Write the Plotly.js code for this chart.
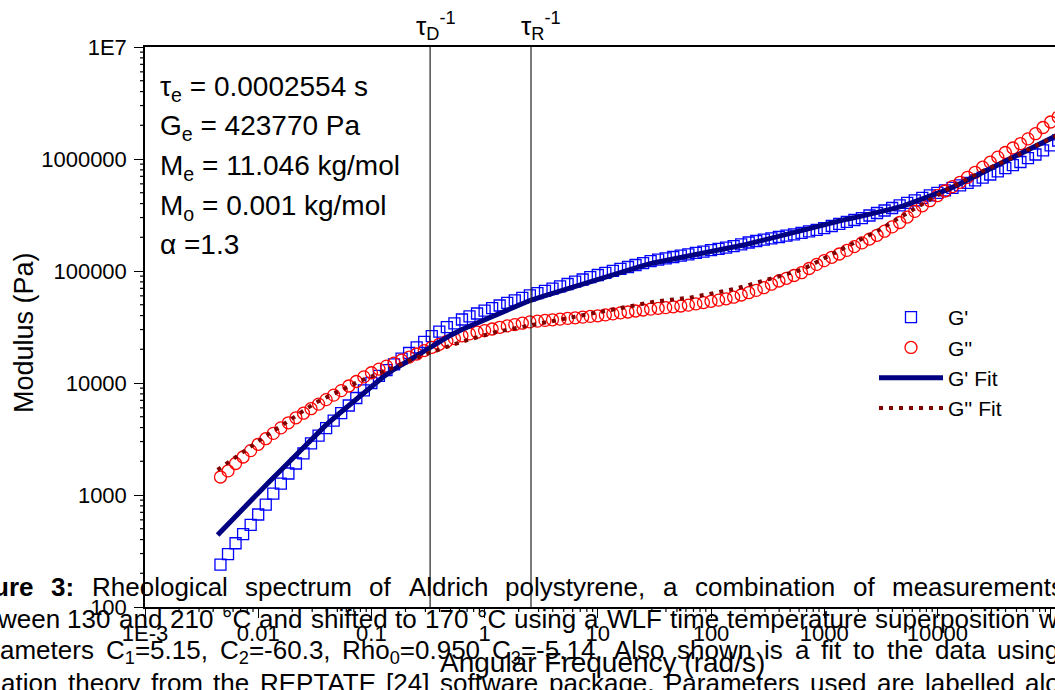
<!DOCTYPE html>
<html>
<head>
<meta charset="utf-8">
<script src="https://cdn.plot.ly/plotly-3.0.1.min.js"></script>
<style>
  html, body { margin: 0; padding: 0; overflow: hidden; background: #fff; }
  #chart { width: 1055px; height: 690px; }
</style>
</head>
<body>
<div id="chart"></div>
<script>
// Angular frequency (rad/s) of the measured points
const freqData = [
  0.004642, 0.005412, 0.006310, 0.007356, 0.008577,
  0.01, 0.01166, 0.01359, 0.01585, 0.01848, 0.02154, 0.02512, 0.02929, 0.03415, 0.03981, 0.04642, 0.05412, 0.06310, 0.07356, 0.08577,
  0.1, 0.1166, 0.1359, 0.1585, 0.1848, 0.2154, 0.2512, 0.2929, 0.3415, 0.3981, 0.4642, 0.5412, 0.6310, 0.7356, 0.8577,
  1, 1.166, 1.359, 1.585, 1.848, 2.154, 2.512, 2.929, 3.415, 3.981, 4.642, 5.412, 6.310, 7.356, 8.577,
  10, 11.66, 13.59, 15.85, 18.48, 21.54, 25.12, 29.29, 34.15, 39.81, 46.42, 54.12, 63.10, 73.56, 85.77,
  100, 116.6, 135.9, 158.5, 184.8, 215.4, 251.2, 292.9, 341.5, 398.1, 464.2, 541.2, 631.0, 735.6, 857.7,
  1000, 1166, 1359, 1585, 1848, 2154, 2512, 2929, 3415, 3981, 4642, 5412, 6310, 7356, 8577,
  10000, 11660, 13590, 15850, 18480, 21540, 25120, 29290, 34150, 39810, 46420, 54120, 63100, 73560, 85770,
  100000, 116600
];

// Storage modulus G' (Pa)
const gPrime = [
  239, 296, 371, 447, 542,
  670, 821, 1029, 1264, 1556, 1911, 2352, 2894, 3384, 3948, 4607, 5376, 6298, 7347, 8590,
  10000, 11600, 13040, 14660, 16480, 18530, 20790, 23330, 26180, 28710, 31490, 34120, 36900, 39400, 41740,
  44210, 46650, 49210, 51920, 54640, 57530, 60560, 63500, 66570, 69650, 73020, 76550, 80250, 83960, 88010,
  92100, 96160, 100200, 104400, 108600, 113100, 117600, 122600, 126200, 129600, 133400, 137300, 141000, 145100, 149000,
  153400, 157500, 161800, 166500, 172800, 179700, 185300, 190300, 195900, 201200, 207100, 212700, 218900, 225700, 232800,
  241500, 252200, 263900, 274400, 285400, 296700, 313000, 329600, 347000, 365200, 385200, 405500, 427000, 449500, 473200,
  498200, 524400, 553300, 582400, 613100, 645400, 682200, 727000, 776800, 827800, 882300, 940100, 1016500, 1097000, 1196000,
  1326000, 1463000
];

// Loss modulus G'' (Pa)
const gDoublePrime = [
  1448, 1641, 1911, 2184, 2491,
  2836, 3182, 3548, 3973, 4411, 4891, 5376, 5896, 6480, 7109, 7798, 8554, 9401, 10310, 11340,
  12340, 13310, 14160, 15060, 16010, 17030, 18150, 19470, 20830, 22160, 23570, 24910, 26390, 27440, 28420,
  29380, 30350, 31430, 32350, 33220, 34190, 35120, 35700, 36220, 36670, 37200, 37740, 38210, 38760, 39320,
  39810, 40550, 41400, 42260, 43050, 43950, 44860, 45690, 46450, 47120, 47900, 48700, 49610, 50850, 52230,
  53640, 54980, 56470, 58350, 61050, 64000, 67130, 70950, 76240, 81420, 86060, 91170, 96560, 105300, 114500,
  123800, 132600, 141800, 152700, 165200, 178200, 192700, 208400, 226700, 247600, 271000, 302900, 340500, 382100, 424300,
  470300, 518000, 567000, 619400, 686400, 760900, 845000, 936400, 1040000, 1143000, 1254000, 1369000, 1512000, 1682000, 1911000,
  2140000, 2371000
];

// Angular frequency (rad/s) of the model curves
const freqFit = [
  0.00438, 0.005012, 0.00631, 0.007943,
  0.01, 0.01259, 0.01585, 0.01995, 0.02512, 0.03162, 0.03981, 0.05012, 0.0631, 0.07943,
  0.1, 0.1259, 0.1585, 0.1995, 0.2512, 0.3162, 0.3981, 0.5012, 0.631, 0.7943,
  1, 1.259, 1.585, 1.995, 2.512, 3.162, 3.981, 5.012, 6.31, 7.943,
  10, 12.59, 15.85, 19.95, 25.12, 31.62, 39.81, 50.12, 63.1, 79.43,
  100, 125.9, 158.5, 199.5, 251.2, 316.2, 398.1, 501.2, 631, 794.3,
  1000, 1259, 1585, 1995, 2512, 3162, 3981, 5012, 6310, 7943,
  10000, 12590, 15850, 19950, 25120, 31620, 39810, 50120, 63100, 79430,
  100000, 125900
];

// Model G' (Pa)
const gPrimeFit = [
  440, 508, 655, 830,
  1046, 1320, 1665, 2105, 2656, 3350, 4226, 5180, 6337, 7737,
  9441, 11240, 13260, 15340, 17570, 20120, 23090, 26730, 30050, 33300,
  36750, 40550, 44760, 49400, 54530, 58850, 63360, 68080, 73330, 78790,
  84840, 90980, 97360, 104200, 111700, 118600, 124100, 129600, 135300, 141300,
  147500, 154000, 161800, 171700, 181900, 193100, 204900, 217100, 230900, 245600,
  261200, 277300, 290100, 304100, 319600, 338400, 358400, 382100, 417400, 456000,
  489000, 538600, 600600, 675400, 762300, 852000, 956000, 1075000, 1206000, 1353000,
  1521000, 1710000
];

// Model G'' (Pa)
const gDoublePrimeFit = [
  1672, 1842, 2198, 2580,
  3010, 3548, 4123, 4850, 5716, 6614, 7424, 8344, 9382, 10440,
  11430, 12640, 14010, 15400, 16820, 18340, 19950, 21800, 23380, 25020,
  26830, 28540, 29850, 31300, 32820, 34340, 36000, 37740, 39400, 41060,
  42790, 44580, 46650, 48910, 51170, 53320, 54760, 56010, 57530, 60070,
  62710, 65480, 68790, 73330, 78620, 84320, 90250, 96160, 102700, 115200,
  129600, 146000, 163800, 184200, 206200, 236600, 273800, 314900, 362900, 417400,
  478200, 544100, 615600, 699300, 781600, 869600, 956000, 1070000, 1213000, 1358000,
  1527000, 1717000
];

// Characteristic frequencies 1/tau_D and 1/tau_R (rad/s)
const markerFreqs = [0.33, 2.57];
const markerLabels = ['τ<sub>D</sub><sup>-1</sup>', 'τ<sub>R</sub><sup>-1</sup>'];

// Fit parameters
const paramLines = [
  'τ<sub>e</sub> = 0.0002554 s',
  'G<sub>e</sub> = 423770 Pa',
  'M<sub>e</sub> = 11.046 kg/mol',
  'M<sub>o</sub> = 0.001 kg/mol',
  'α =1.3'
];

// Axis ticks
const xTickVals = [0.001, 0.01, 0.1, 1, 10, 100, 1000, 10000, 100000];
const xTickText = ['1E-3', '0.01', '0.1', '1', '10', '100', '1000', '10000', '100000'];
const yTickVals = [100, 1000, 10000, 100000, 1000000, 10000000];
const yTickText = ['100', '1000', '10000', '100000', '1000000', '1E7'];

// Caption text, one array of words per printed line
const captionWords = [
  ['<b>ure</b>', '<b>3:</b>', 'Rheological', 'spectrum', 'of', 'Aldrich', 'polystyrene,', 'a', 'combination', 'of', 'measurements'],
  ['ween', '130', 'and', '210', '°C', 'and', 'shifted', 'to', '170', '°C', 'using', 'a', 'WLF', 'time', 'temperature', 'superposition', 'w'],
  ['ameters', 'C<sub>1</sub>=5.15,', 'C<sub>2</sub>=-60.3,', 'Rho<sub>0</sub>=0.950', 'C<sub>3</sub>=-5.14.', 'Also', 'shown', 'is', 'a', 'fit', 'to', 'the', 'data', 'using'],
  ['ation', 'theory', 'from', 'the', 'REPTATE', '[24]', 'software', 'package.', 'Parameters', 'used', 'are', 'labelled', 'alo']
];

// ---- layout geometry (pixels) ----
const W = 1055, H = 690;
const PL = 145, PT = 47, PW = 910, PH = 560;
const FONT = '"Liberation Sans", Arial, Helvetica, sans-serif';
const px = x => (x - PL) / PW;
const py = y => (PT + PH - y) / PH;
const xRange = [-3, -3 + PW / 113.2];
const yRange = [2, 7];

// justified caption lines: left edge of first word, left edge of last word, baseline
const captionGeom = [
  { first: -8, last: 891, base: 595 },
  { first: -4, last: 1037, base: 627 },
  { first: -1, last: 996, base: 658 },
  { first: 0, last: 1024, base: 691 }
];
const CAP_SIZE = 26;

const ctx = document.createElement('canvas').getContext('2d');
function textWidth(html, size) {
  let w = 0, m;
  const re = /<(b|sub)>(.*?)<\/\1>|([^<]+)/g;
  while ((m = re.exec(html)) !== null) {
    if (m[1] === 'b') { ctx.font = 'bold ' + size + 'px "Liberation Sans"'; w += ctx.measureText(m[2]).width; }
    else if (m[1] === 'sub') { ctx.font = (size * 0.7) + 'px "Liberation Sans"'; w += ctx.measureText(m[2]).width; }
    else { ctx.font = size + 'px "Liberation Sans"'; w += ctx.measureText(m[3]).width; }
  }
  return w;
}

const annotations = [];

captionWords.forEach((words, li) => {
  const g = captionGeom[li];
  const widths = words.map(w => textWidth(w, CAP_SIZE));
  let sum = 0;
  for (let i = 0; i < words.length - 1; i++) sum += widths[i];
  const gap = (g.last - g.first - sum) / (words.length - 1);
  let x = g.first;
  words.forEach((w, i) => {
    annotations.push({
      text: w, xref: 'paper', yref: 'paper',
      x: px(x), y: py(g.base - 0.905 * CAP_SIZE),
      xanchor: 'left', yanchor: 'top', showarrow: false, borderpad: 0,
      font: { family: FONT, size: CAP_SIZE, color: '#000' }
    });
    x += widths[i] + gap;
  });
});

// parameter block
const paramBase = [95, 134.5, 174.5, 214, 253.5];
const PARAM_SIZE = 28;
paramLines.forEach((t, i) => {
  annotations.push({
    text: t, xref: 'paper', yref: 'paper',
    x: px(159), y: py(paramBase[i] - 0.905 * PARAM_SIZE),
    xanchor: 'left', yanchor: 'top', showarrow: false, borderpad: 0,
    font: { family: FONT, size: PARAM_SIZE, color: '#000' }
  });
});

// labels above the characteristic-frequency lines
const markerLabelLeft = [415, 520];
markerLabels.forEach((t, i) => {
  annotations.push({
    text: t, xref: 'paper', yref: 'paper',
    x: px(markerLabelLeft[i]), y: py(26),
    xanchor: 'left', yanchor: 'middle', showarrow: false, borderpad: 0,
    font: { family: FONT, size: 26, color: '#000' }
  });
});

// axis titles
annotations.push({
  text: 'Angular Frequency (rad/s)', xref: 'paper', yref: 'paper',
  x: px(602), y: py(662), xanchor: 'center', yanchor: 'middle', showarrow: false, borderpad: 0,
  font: { family: FONT, size: 28, color: '#000' }
});
annotations.push({
  text: 'Modulus (Pa)', xref: 'paper', yref: 'paper', textangle: -90,
  x: px(24), y: py(333), xanchor: 'center', yanchor: 'middle', showarrow: false, borderpad: 0,
  font: { family: FONT, size: 27, color: '#000' }
});

const shapes = markerFreqs.map(f => ({
  type: 'line', xref: 'x', yref: 'paper', x0: f, x1: f, y0: 0, y1: 1,
  line: { color: '#222', width: 1.2 }
}));

// minor log ticks (2..9 in every decade), drawn outside the frame in paper units
const MINOR_LEN = 5;
const xFrac = v => (Math.log10(v) - xRange[0]) / (xRange[1] - xRange[0]);
const yFrac = v => (Math.log10(v) - yRange[0]) / (yRange[1] - yRange[0]);
for (let d = -3; d <= 4; d++) {
  for (let m = 2; m <= 9; m++) {
    const f = xFrac(m * Math.pow(10, d));
    if (f > 1) continue;
    shapes.push({
      type: 'line', xref: 'paper', yref: 'paper', x0: f, x1: f, y0: 0, y1: -MINOR_LEN / PH,
      line: { color: '#000', width: 1.2 }, layer: 'above'
    });
  }
}
for (let d = 2; d <= 6; d++) {
  for (let m = 2; m <= 9; m++) {
    const f = yFrac(m * Math.pow(10, d));
    shapes.push({
      type: 'line', xref: 'paper', yref: 'paper', x0: 0, x1: -MINOR_LEN / PW, y0: f, y1: f,
      line: { color: '#000', width: 1.2 }, layer: 'above'
    });
  }
}

const traces = [
  {
    type: 'scatter', mode: 'markers', name: "G'",
    x: freqData, y: gPrime,
    marker: { symbol: 'square-open', size: 11, color: '#0000ff', line: { width: 1.3, color: '#0000ff' } }
  },
  {
    type: 'scatter', mode: 'markers', name: "G''",
    x: freqData, y: gDoublePrime,
    marker: { symbol: 'circle-open', size: 12, color: '#ff0000', line: { width: 1.3, color: '#ff0000' } }
  },
  {
    type: 'scatter', mode: 'lines', name: "G' Fit",
    x: freqFit, y: gPrimeFit,
    line: { color: '#000080', width: 5 }
  },
  {
    type: 'scatter', mode: 'lines', name: "G'' Fit",
    x: freqFit, y: gDoublePrimeFit,
    line: { color: '#800000', width: 4, dash: '4px,6px' }
  }
];

const axisCommon = {
  type: 'log', showline: true, linecolor: '#000', linewidth: 1.5,
  ticks: 'outside', ticklen: 9, tickwidth: 1.2, tickcolor: '#000',
  showgrid: false, zeroline: false, tickmode: 'array',
  tickfont: { family: FONT, size: 22, color: '#000' }
};

const layout = {
  width: W, height: H,
  margin: { l: PL, r: W - PL - PW, t: PT, b: H - PT - PH, pad: 0 },
  paper_bgcolor: '#fff', plot_bgcolor: '#fff',
  font: { family: FONT, color: '#000' },
  showlegend: true,
  legend: {
    x: px(874), y: py(297), xanchor: 'left', yanchor: 'top',
    bgcolor: 'rgba(0,0,0,0)', borderwidth: 0,
    font: { family: FONT, size: 21, color: '#000' },
    itemwidth: 64, itemsizing: 'trace', tracegroupgap: 0
  },
  xaxis: Object.assign({}, axisCommon, {
    range: xRange, mirror: true,
    tickvals: xTickVals, ticktext: xTickText,
    ticklabelstandoff: -3
  }),
  yaxis: Object.assign({}, axisCommon, {
    range: yRange, mirror: false,
    tickvals: yTickVals, ticktext: yTickText,
    ticklabelstandoff: 3
  }),
  shapes: shapes,
  annotations: annotations
};

Plotly.newPlot('chart', traces, layout, { displayModeBar: false, responsive: false });
</script>
</body>
</html>
